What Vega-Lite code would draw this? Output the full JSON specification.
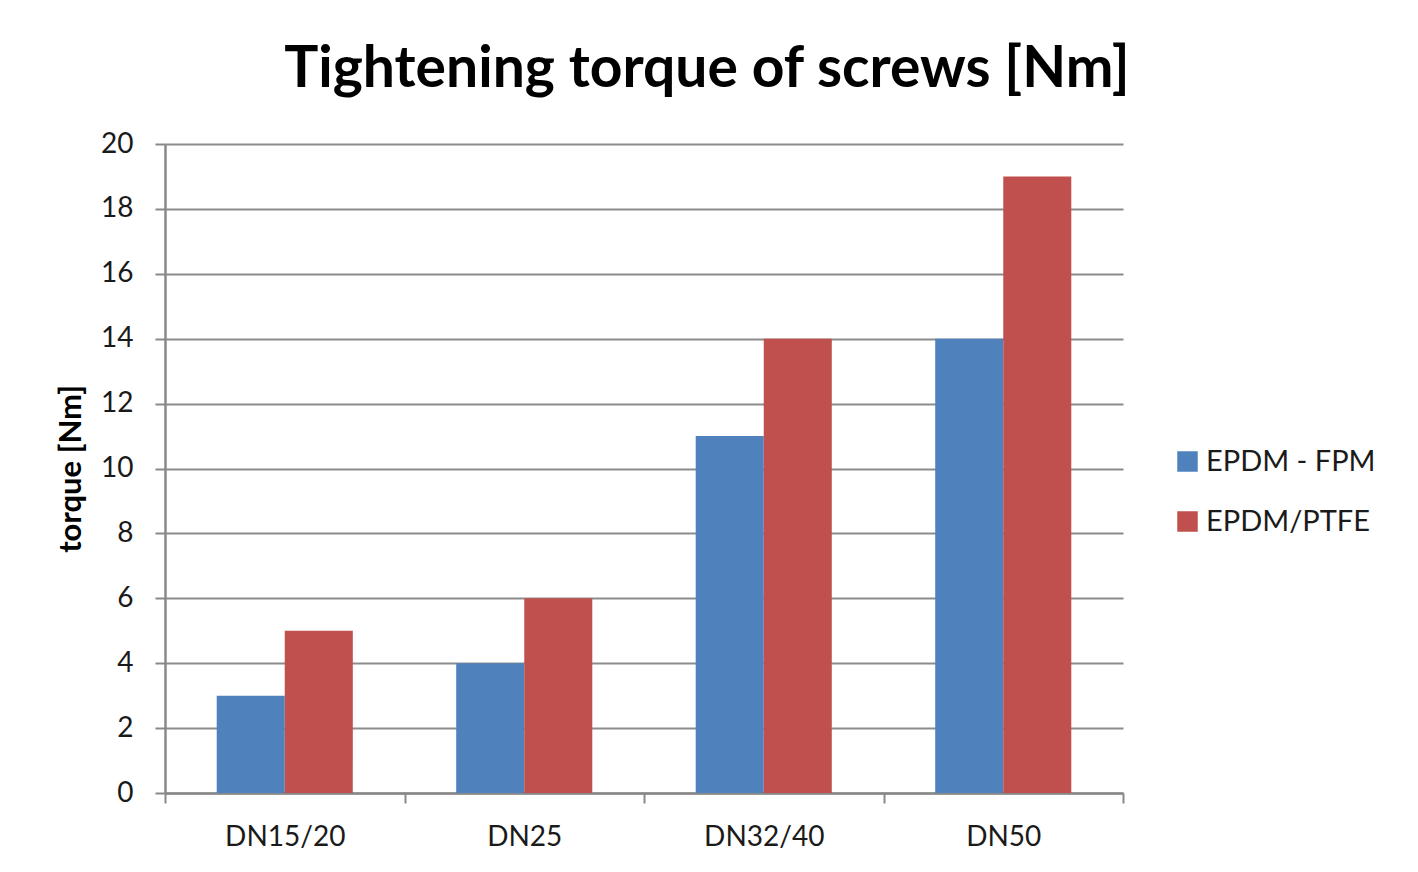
{
  "$schema": "https://vega.github.io/schema/vega-lite/v6.json",
  "autosize": {"type": "none"},
  "width": 958,
  "height": 649,
  "padding": {"left": 165, "top": 144, "right": 295, "bottom": 79},
  "background": "white",
  "title": {
    "text": "Tightening torque of screws [Nm]",
    "font": "Lato",
    "fontSize": 57,
    "fontWeight": "bold",
    "color": "#000000",
    "anchor": "middle",
    "dx": 63,
    "dy": 69,
    "baseline": "alphabetic",
    "offset": 55
  },
  "data": {
    "values": [
      {"size": "DN15/20", "material": "EPDM - FPM", "torque": 3},
      {"size": "DN15/20", "material": "EPDM/PTFE", "torque": 5},
      {"size": "DN25", "material": "EPDM - FPM", "torque": 4},
      {"size": "DN25", "material": "EPDM/PTFE", "torque": 6},
      {"size": "DN32/40", "material": "EPDM - FPM", "torque": 11},
      {"size": "DN32/40", "material": "EPDM/PTFE", "torque": 14},
      {"size": "DN50", "material": "EPDM - FPM", "torque": 14},
      {"size": "DN50", "material": "EPDM/PTFE", "torque": 19}
    ]
  },
  "mark": {"type": "bar"},
  "encoding": {
    "x": {
      "field": "size",
      "type": "nominal",
      "sort": ["DN15/20", "DN25", "DN32/40", "DN50"],
      "scale": {"paddingInner": 0, "paddingOuter": 0},
      "axis": {
        "title": null,
        "labelAngle": 0,
        "labelFont": "Lato",
        "labelFontSize": 28,
        "labelColor": "#1a1a1a",
        "labelPadding": 20,
        "tickBand": "extent",
        "tickColor": "#888888",
        "tickWidth": 2,
        "tickSize": 10,
        "domainColor": "#888888",
        "domainWidth": 2.5,
        "grid": false
      }
    },
    "xOffset": {"field": "material", "type": "nominal", "scale": {"paddingInner": 0, "paddingOuter": 0.76}},
    "y": {
      "field": "torque",
      "type": "quantitative",
      "scale": {"domain": [0, 20]},
      "axis": {
        "title": "torque [Nm]",
        "titleFont": "Lato",
        "titleFontSize": 31,
        "titleFontWeight": "bold",
        "titleColor": "#000000",
        "titlePadding": 13,
        "values": [0, 2, 4, 6, 8, 10, 12, 14, 16, 18, 20],
        "labelFont": "Lato",
        "labelFontSize": 28,
        "labelColor": "#1a1a1a",
        "labelPadding": 22,
        "tickColor": "#888888",
        "tickWidth": 2,
        "tickSize": 10,
        "domainColor": "#888888",
        "domainWidth": 2.5,
        "grid": true,
        "gridColor": "#8c8c8c",
        "gridWidth": 2
      }
    },
    "color": {
      "field": "material",
      "type": "nominal",
      "scale": {"domain": ["EPDM - FPM", "EPDM/PTFE"], "range": ["#4F81BD", "#C0504D"]},
      "legend": {
        "title": null,
        "orient": "none",
        "legendX": 1008,
        "legendY": 303,
        "symbolType": "square",
        "symbolSize": 420,
        "symbolStrokeWidth": 0,
        "symbolOpacity": 1,
        "labelFont": "Lato",
        "labelFontSize": 29,
        "labelColor": "#1a1a1a",
        "labelOffset": 4,
        "rowPadding": 30,
        "labelLimit": 400
      }
    }
  },
  "config": {
    "view": {"stroke": null}
  }
}
